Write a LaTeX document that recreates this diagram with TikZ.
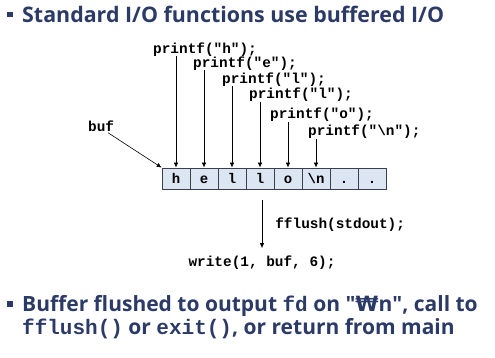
\documentclass[tikz,border=0pt]{standalone}
\usepackage{fontspec}
\setmainfont{Open Sans}
\setmonofont{Liberation Mono}
\newfontfamily\wonfont{DejaVu Sans}
\usetikzlibrary{arrows.meta}
\definecolor{navy}{HTML}{2B3A67}
\definecolor{cellfill}{HTML}{DCE6F2}
\definecolor{celldraw}{HTML}{3A3F4F}
\begin{document}
\begin{tikzpicture}[x=1pt,y=-1pt,
  code/.style={font=\ttfamily\bfseries\fontsize{14.4}{16}\selectfont, inner sep=0pt, anchor=base west},
  cell/.style={draw=celldraw, fill=cellfill, minimum width=28pt, minimum height=21pt, inner sep=0pt,
    text height=9.5pt, text depth=0pt, font=\ttfamily\bfseries\fontsize{14}{15}\selectfont, line width=0.8pt},
  arr/.style={-{Latex[length=5pt,width=4.5pt]}, line width=0.7pt},
  bul/.style={fill=navy, minimum size=5.3pt, inner sep=0pt},
  head/.style={anchor=base west, inner sep=0pt, text=navy, font=\bfseries\fontsize{21.4}{24}\selectfont},
  body/.style={anchor=base west, inner sep=0pt, text=navy, font=\bfseries\fontsize{21}{24}\selectfont}]
\useasboundingbox (0,0) rectangle (495,357);
% title
\node[bul] (b1) at (10,14.2) {};
\node[head] (title) at (22,22.7) {Standard I/O functions use buffered I/O};
% printf labels
\node[code] (ph) at (153,53) {printf("h");};
\node[code] (pe) at (193,67) {printf("e");};
\node[code] (pl1) at (222,83) {printf("l");};
\node[code] (pl2) at (249,98.5) {printf("l");};
\node[code] (po) at (270,118.5) {printf("o");};
\node[code] (pn) at (308,135.5) {printf("\textbackslash n");};
\node[code] (buf) at (88,131.5) {buf};
% buffer cells
\foreach \t [count=\i] in {h,e,l,l,o,\textbackslash n,.,.}
  \node[cell] (c\i) at ({176+28*(\i-1)},178.5) {\t};
% arrows into buffer
\draw[arr] (ph.south -| c1.north) -- (c1.north);
\draw[arr] (pe.south -| c2.north) -- (c2.north);
\draw[arr] (pl1.south -| c3.north) -- (c3.north);
\draw[arr] (pl2.south -| c4.north) -- (c4.north);
\draw[arr] (po.south -| c5.north) -- (c5.north);
\draw[arr] (pn.south -| c6.north) -- (c6.north);
\draw[arr, line width=0.6pt] ([xshift=7pt,yshift=-1pt]buf.south) -- (c1.north west);
% flush
\node[code, anchor=base] (write) at (262,266) {write(1, buf, 6);};
\coordinate (fa) at ([xshift=2pt,yshift=-11pt]c4.south);
\coordinate (fb) at (fa |- write.north);
\draw[arr] (fa) -- ([yshift=7pt]fb)
  node[midway, right=13pt, code, anchor=west] (ff) {fflush(stdout);};
% bottom text
\node[bul] (b2) at (10,304) {};
\node[body] (l1) at (22,311.7) {Buffer flushed to output {\ttfamily fd} on \textquotedbl{\wonfont\bfseries ₩}n\textquotedbl, call to};
\node[body] (l2) at (22,334) {{\ttfamily fflush()} or {\ttfamily exit()}, or return from main};
\end{tikzpicture}
\end{document}
